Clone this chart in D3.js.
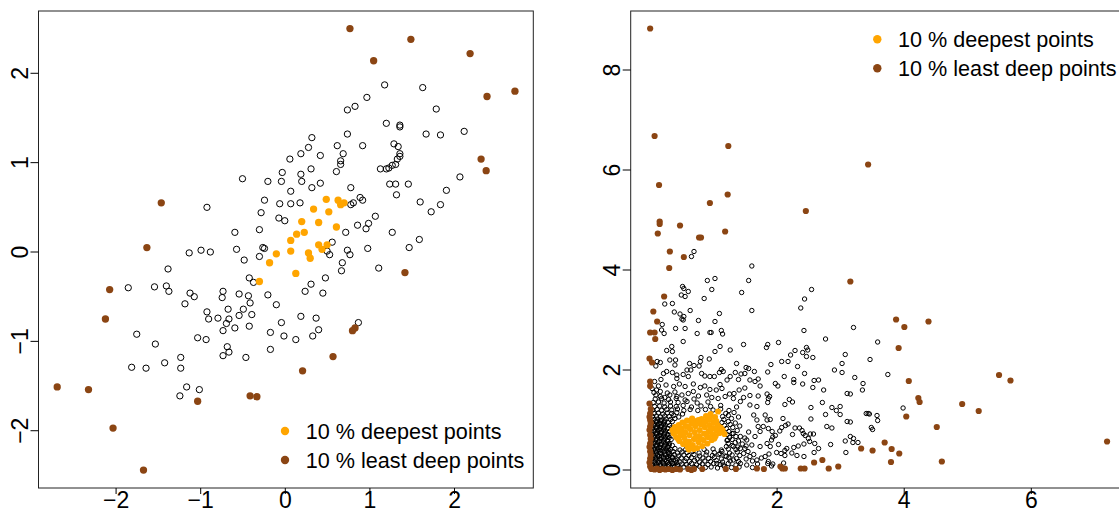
<!DOCTYPE html>
<html>
<head>
<meta charset="utf-8">
<script src="https://cdnjs.cloudflare.com/ajax/libs/d3/7.8.5/d3.min.js"></script>
<style>
  body { margin: 0; background: #fff; }
  svg text { font-family: "Liberation Sans", Arial, Helvetica, sans-serif; fill: #000; }
</style>
</head>
<body>
<script>
// ---- data ----
var leftTicks = [-2, -1, 0, 1, 2];
var rightXTicks = [0, 2, 4, 6];
var rightYTicks = [0, 2, 4, 6, 8];
var legendLabels = ["10 % deepest points", "10 % least deep points"];

// left panel: bivariate normal sample
var leftDeepest = [
  [0.49,0.59],[0.63,0.58],[0.66,0.53],[0.70,0.55],[0.34,0.48],[0.52,0.45],[0.20,0.34],[0.40,0.33],
  [0.61,0.28],[0.14,0.20],[0.23,0.22],[0.07,0.13],[0.40,0.08],[0.50,0.08],[0.44,0.03],[0.07,0.01],
  [-0.10,-0.02],[0.28,-0.01],[0.30,-0.07],[-0.18,-0.12],[0.13,-0.24],[-0.30,-0.33]
];
var leftLeastDeep = [
  [0.77,2.50],[1.49,2.38],[2.19,2.22],[1.05,2.14],[2.39,1.74],[2.72,1.80],[2.32,1.04],[2.38,0.91],
  [-1.46,0.55],[-1.63,0.05],[1.42,-0.23],[-2.07,-0.42],[-2.12,-0.75],[0.83,-0.85],[0.80,-0.88],
  [0.57,-1.17],[0.21,-1.33],[-2.69,-1.51],[-2.32,-1.54],[-1.03,-1.67],[-0.41,-1.61],[-0.33,-1.62],
  [-2.03,-1.97],[-1.67,-2.44]
];
var leftOther = [
  [1.18,1.87],[1.63,1.84],[0.97,1.73],[0.83,1.63],[0.74,1.59],[1.79,1.60],[1.20,1.44],[1.36,1.42],
  [1.36,1.40],[1.67,1.32],[1.84,1.31],[2.12,1.35],[0.74,1.32],[0.32,1.28],[0.92,1.19],[0.62,1.19],
  [0.28,1.17],[1.29,1.21],[1.34,1.18],[0.19,1.10],[0.42,1.08],[0.69,1.10],[0.06,1.04],[1.36,1.10],
  [1.36,1.07],[1.33,1.04],[0.66,1.02],[0.66,0.98],[1.13,0.93],[1.20,0.93],[1.23,0.94],[1.27,0.97],
  [1.31,0.98],[2.07,0.84],[-0.03,0.89],[-0.04,0.79],[0.19,0.87],[0.20,0.79],[0.31,0.93],[0.61,0.90],
  [0.42,0.77],[0.32,0.72],[1.24,0.76],[1.31,0.76],[1.46,0.76],[1.32,0.64],[1.91,0.69],[0.07,0.68],
  [0.78,0.72],[0.78,0.53],[0.81,0.55],[0.89,0.61],[0.92,0.58],[1.60,0.56],[1.84,0.53],[1.73,0.45],
  [-0.06,0.54],[0.07,0.54],[0.18,0.55],[1.07,0.40],[-0.07,0.38],[0.00,0.35],[0.86,0.30],[0.99,0.32],
  [0.96,0.26],[0.72,0.22],[1.27,0.22],[1.59,0.14],[0.56,0.11],[0.74,0.02],[0.77,-0.03],[0.98,0.04],
  [1.47,0.05],[0.50,0.01],[0.53,-0.03],
  [-0.50,0.82],[-0.20,0.79],[-0.24,0.58],[-0.92,0.50],[-0.28,0.44],[-0.59,0.22],[-0.30,0.25],
  [-1.13,-0.01],[-0.99,0.02],[-0.88,0.00],[-0.57,0.03],[-0.26,0.05],[-0.24,0.04],[-0.48,-0.09],
  [-0.30,-0.05],[-1.38,-0.19],[-1.85,-0.40],[-1.54,-0.39],[-1.40,-0.38],[-1.37,-0.44],[-0.42,-0.29],
  [-0.37,-0.34],[-1.12,-0.46],[-1.07,-0.50],[-1.18,-0.58],[-0.73,-0.44],[-0.74,-0.51],[-0.54,-0.47],
  [-0.43,-0.49],[-0.41,-0.57],[-0.20,-0.48],[-0.10,-0.59],[-0.67,-0.64],[-0.49,-0.64],[-0.92,-0.67],
  [-0.39,-0.70],[-0.54,-0.71],[-0.90,-0.75],[-0.79,-0.74],[-0.66,-0.75],[-0.69,-0.80],[-0.59,-0.85],
  [-0.42,-0.83],[-0.04,-0.79],[-0.73,-0.88],[-0.17,-0.90],[-1.75,-0.92],[-1.53,-1.03],[-1.03,-0.96],
  [-0.93,-0.98],[-0.68,-1.06],[-0.66,-1.12],[-0.73,-1.16],[-0.46,-1.18],[-0.17,-1.09],[-1.23,-1.18],
  [-1.81,-1.29],[-1.64,-1.30],[-1.42,-1.24],[-1.23,-1.30],[-1.16,-1.51],[-1.01,-1.54],[-1.24,-1.61],
  [0.68,-0.12],[0.67,-0.21],[1.11,-0.18],[0.48,-0.29],[0.31,-0.36],[0.24,-0.44],[0.45,-0.46],
  [0.19,-0.72],[0.37,-0.74],[0.40,-0.87],[0.33,-0.94],[-0.01,-0.94],[0.13,-0.98],[0.87,-0.79]
];

// right panel: skewed positive sample
var rightDeepest = [
  [0.36,0.80],[0.38,0.73],[0.40,0.86],[0.42,0.66],[0.44,0.78],[0.46,0.90],[0.47,0.58],[0.49,0.70],
  [0.50,0.83],[0.52,0.95],[0.53,0.52],[0.55,0.64],[0.56,0.76],[0.57,0.88],[0.59,0.99],[0.60,0.46],
  [0.62,0.57],[0.63,0.70],[0.64,0.82],[0.66,0.93],[0.67,1.03],[0.68,0.50],[0.70,0.62],[0.71,0.76],
  [0.72,0.88],[0.74,0.98],[0.75,0.44],[0.77,0.56],[0.78,0.68],[0.79,0.80],[0.80,0.92],[0.82,1.02],
  [0.83,0.48],[0.85,0.60],[0.86,0.73],[0.87,0.86],[0.88,0.97],[0.89,1.08],[0.91,0.53],[0.92,0.66],
  [0.93,0.78],[0.94,0.90],[0.95,1.01],[0.96,1.12],[0.98,0.60],[0.99,0.72],[1.00,0.84],[1.01,0.95],
  [1.03,1.06],[1.04,0.68],[1.06,0.79],[1.07,0.90],[1.08,1.17],[1.10,0.74],[1.12,0.85],[1.15,0.80],
  [1.18,0.72],[0.45,0.62],[0.58,0.55],[0.65,0.48],[0.73,0.66],[0.81,0.62],[0.90,0.70],[0.97,0.82],
  [1.02,0.63],[0.69,0.94],[0.61,0.86],[0.54,0.72],[0.48,0.79],[0.77,1.00],[0.84,0.91],[0.93,1.05],
  [1.05,0.98],[0.70,0.42],[0.62,0.41]
];
var rightLeastDeep = [
  [0.01,8.83],[0.08,6.68],[1.24,6.48],[0.15,5.70],[1.23,5.51],[0.95,5.34],[2.46,5.18],[0.16,4.97],
  [0.16,4.92],[0.48,4.89],[0.13,4.73],[0.78,4.65],[0.81,4.65],[1.19,4.77],[0.32,4.37],[0.54,4.26],
  [0.31,4.04],[3.44,6.11],
  [3.16,3.77],[3.88,3.01],[4.01,2.86],[4.39,2.97],[3.92,2.44],[4.08,1.78],[5.50,1.90],[5.68,1.79],
  [4.23,1.44],[4.25,1.36],[4.92,1.32],[5.18,1.18],[4.04,1.07],[4.52,0.86],[3.70,0.55],[3.33,0.43],
  [3.51,0.39],[3.81,0.42],[3.93,0.33],[3.80,0.16],[4.60,0.17],[7.20,0.57],
  [0.23,3.47],[0.06,3.17],[0.12,2.97],[0.01,2.75],[0.08,2.75],[0.09,2.62],[0.00,2.23],[0.04,2.15],
  [0.01,1.77],[0.01,1.68],[0.00,1.33],[0.01,1.13],[0.01,1.00],[0.01,0.87],[0.01,0.70],[0.01,0.53],
  [0.01,0.37],[0.01,0.23],[0.02,1.22],[0.00,1.06],[0.02,0.94],[0.00,0.80],[0.02,0.62],[0.00,0.46],
  [0.02,0.30],[0.00,0.15],[0.01,0.07],
  [0.03,0.02],[0.08,0.01],[0.12,0.03],[0.16,0.00],[0.20,0.02],[0.25,0.01],[0.30,0.02],[0.36,0.00],
  [0.42,0.02],[0.48,0.01],[0.61,0.02],[0.66,0.00],[0.70,0.02],[0.83,0.02],[1.20,0.02],[1.36,0.02],
  [1.69,0.03],[1.80,0.02],[2.06,0.07],[2.09,0.03],[2.13,0.03],[2.38,0.03],[2.44,0.03],[2.59,0.15],
  [2.72,0.20],[2.82,0.03],[2.97,0.07]
];
var rightOther = [
  // sparse upper / right part
  [0.70,4.37],[0.66,4.27],[1.61,4.08],[0.91,3.79],[1.03,3.83],[1.56,3.79],[0.54,3.63],[0.98,3.61],
  [2.55,3.61],[0.52,3.67],[0.61,3.57],[0.56,3.47],[0.50,3.50],[1.45,3.55],[0.86,3.43],[0.24,3.32],
  [0.36,3.33],[0.64,3.19],[0.39,3.16],[0.48,3.12],[0.54,3.07],[0.51,3.02],[0.53,3.00],[1.10,3.13],
  [1.61,3.19],[0.77,2.99],[1.03,2.97],[0.20,2.91],[0.19,2.80],[0.23,2.73],[0.41,2.83],[0.56,2.83],
  [0.95,2.75],[0.97,2.75],[1.13,2.79],[1.15,2.72],[0.75,2.73],[0.53,2.57],[1.48,2.51],[1.86,2.51],
  [1.84,2.45],[1.11,2.47],[1.03,2.37],[0.35,2.47],[0.27,2.39],[0.36,2.37],[1.27,2.40],[0.94,2.22],
  [0.81,2.25],[0.17,2.15],[0.12,2.17],[0.10,2.08],[0.32,2.20],[0.41,2.20],[0.40,2.10],[0.63,2.13],
  [0.70,2.09],[0.65,2.00],[0.59,2.00],[0.80,2.17],[0.78,2.08],[1.13,2.01],[1.16,1.97],[1.37,2.13],
  [1.52,2.05],[1.56,2.03],[1.50,1.93],[1.65,1.97],[1.71,1.82],[1.86,1.96],[0.22,1.93],[0.27,1.97],
  [0.36,1.95],[0.43,1.90],[0.53,1.91],[0.61,1.87],[0.43,1.83],[0.82,1.93],[0.87,1.88],[0.95,1.87],
  [1.02,1.87],[1.10,1.95],[1.27,1.87],[1.35,1.95],[1.44,1.92],[1.40,1.81],[1.22,1.80],[1.11,1.71],
  [0.18,1.81],[0.08,1.77],[0.04,1.63],[0.11,1.60],[0.38,1.67],[0.47,1.72],[0.56,1.67],[0.69,1.72],
  [0.80,1.65],[0.87,1.68],[0.95,1.61],[1.05,1.60],[1.14,1.63],[1.26,1.52],[1.33,1.53],[1.41,1.60],
  [1.50,1.64],[1.58,1.80],[1.66,1.77],[1.74,1.68],[1.71,1.48],[1.85,1.52],[1.87,1.43],[1.86,1.35],
  [1.48,1.45],[1.58,1.49],[0.10,1.50],[0.17,1.47],[0.24,1.45],[0.32,1.50],[0.43,1.47],[0.51,1.50],
  [0.61,1.53],[0.69,1.57],[0.77,1.48],[0.90,1.50],[0.98,1.45],[1.08,1.43],[1.19,1.47],[1.32,1.43],
  [1.43,1.37],[1.58,1.30],[1.69,1.27],[1.82,1.10],[1.85,1.00],[1.79,0.87],[1.87,0.83],[1.64,1.10],
  [1.69,1.00],[1.71,0.87],[1.74,0.77],[1.66,0.67],[1.43,0.67],[1.53,0.60],[1.61,0.50],[1.74,0.47],
  [1.85,0.53],[1.32,0.73],[1.23,0.60],[1.32,0.47],[1.43,0.43],[1.48,0.33],[1.58,0.27],[1.69,0.20],
  [1.82,0.27],[1.87,0.17],[1.11,0.33],[1.21,0.27],[1.32,0.20],[1.06,0.13],[1.16,0.10],[1.53,0.10],
  [1.43,0.13],
  [2.44,3.42],[2.38,3.24],[2.43,2.79],[2.77,2.62],[2.03,2.55],[2.47,2.45],[2.49,2.40],[2.41,2.35],
  [2.47,2.27],[2.57,2.25],[2.29,2.39],[2.22,2.30],[3.08,2.31],[2.08,2.17],[2.18,2.17],[1.91,2.11],
  [3.03,2.13],[3.03,1.95],[2.33,2.07],[2.91,2.00],[2.44,1.93],[2.12,1.87],[2.27,1.81],[2.27,1.75],
  [2.41,1.72],[1.98,1.73],[2.02,1.68],[2.59,1.79],[2.66,1.80],[2.57,1.65],[2.74,1.60],[3.11,1.53],
  [1.89,1.47],[2.20,1.41],[2.25,1.36],[2.13,1.31],[2.72,1.35],[2.54,1.25],[2.87,1.25],[2.94,1.19],
  [3.00,1.27],[3.00,1.11],[2.77,1.11],[2.54,1.02],[1.90,1.01],[2.10,1.03],[3.11,0.97],[2.79,0.87],
  [2.87,0.84],[1.93,0.77],[1.98,0.69],[2.05,0.78],[2.08,0.85],[2.14,0.89],[2.18,0.92],[2.29,0.84],
  [2.36,0.84],[2.40,0.79],[2.42,0.73],[2.45,0.69],[2.53,0.72],[2.58,0.72],[2.50,0.63],[2.25,0.71],
  [1.92,0.60],[2.03,0.51],[1.90,0.47],[1.94,0.66],[2.16,0.43],[2.13,0.39],[2.27,0.45],[2.34,0.48],
  [2.60,0.53],[2.66,0.43],[2.43,0.52],[2.52,0.57],[2.85,0.51],[3.08,0.58],[3.09,0.35],[2.59,0.35],
  [1.88,0.32],[2.00,0.35],[2.07,0.33],[2.13,0.29],[2.24,0.34],[2.32,0.29],[2.43,0.27],[1.86,0.13],
  [1.94,0.12],[2.11,0.14],[1.92,0.08],
  [3.21,2.85],[3.59,2.56],[3.47,2.21],[3.23,1.85],[3.75,1.91],[3.36,1.73],[3.35,1.60],[3.16,1.52],
  [3.99,1.24],[3.41,1.13],[3.44,1.13],[3.46,1.12],[3.58,1.09],[3.59,0.99],[3.16,0.96],[3.49,0.85],
  [3.51,0.81],[3.16,0.67],[3.21,0.63],[3.20,0.55],[3.28,0.55],
  // dense mass near the origin
  [0.06,0.05],[0.13,0.06],[0.19,0.04],[0.26,0.06],[0.33,0.05],[0.40,0.07],[0.47,0.04],[0.54,0.06],
  [0.62,0.07],[0.71,0.05],[0.79,0.07],[0.88,0.05],[0.97,0.06],[1.07,0.04],[1.18,0.07],[1.29,0.05],
  [1.41,0.06],[1.62,0.05],
  [0.05,0.11],[0.11,0.12],[0.17,0.10],[0.23,0.12],[0.30,0.11],[0.37,0.13],[0.44,0.10],[0.51,0.12],
  [0.58,0.11],[0.66,0.13],[0.74,0.10],[0.83,0.12],[0.92,0.11],[1.01,0.13],[1.11,0.11],[1.24,0.13],
  [1.36,0.10],[1.70,0.12],
  [0.07,0.17],[0.14,0.18],[0.21,0.16],[0.27,0.18],[0.34,0.17],[0.41,0.19],[0.48,0.16],[0.56,0.18],
  [0.63,0.17],[0.71,0.19],[0.79,0.16],[0.87,0.18],[0.96,0.17],[1.05,0.19],[1.15,0.16],[1.27,0.18],
  [1.40,0.17],[1.62,0.18],
  [0.05,0.23],[0.10,0.24],[0.16,0.22],[0.22,0.24],[0.29,0.23],[0.36,0.25],[0.43,0.22],[0.50,0.24],
  [0.58,0.23],[0.66,0.25],[0.75,0.22],[0.84,0.24],[0.93,0.23],[1.02,0.25],[1.13,0.22],[1.25,0.24],
  [1.37,0.23],[1.52,0.22],[1.76,0.24],
  [0.07,0.29],[0.13,0.30],[0.19,0.28],[0.25,0.30],[0.32,0.29],[0.39,0.31],[0.46,0.28],[0.54,0.30],
  [0.62,0.29],[0.70,0.31],[0.79,0.28],[0.89,0.30],[0.99,0.29],[1.09,0.31],[1.19,0.28],[1.30,0.30],
  [1.42,0.29],[1.64,0.31],
  [0.05,0.35],[0.11,0.36],[0.17,0.34],[0.23,0.36],[0.30,0.35],[0.37,0.37],[0.44,0.34],[0.51,0.36],
  [0.59,0.35],[0.68,0.37],[0.78,0.34],[0.90,0.36],[1.02,0.35],[1.14,0.37],[1.26,0.34],[1.38,0.36],
  [1.55,0.37],
  [0.07,0.41],[0.13,0.42],[0.20,0.40],[0.26,0.42],[0.33,0.41],[0.40,0.43],[0.48,0.40],[0.57,0.41],
  [0.86,0.41],[1.00,0.42],[1.13,0.40],[1.24,0.42],[1.36,0.41],[1.50,0.43],
  [0.05,0.47],[0.11,0.48],[0.17,0.46],[0.23,0.48],[0.29,0.47],[0.36,0.49],[1.21,0.47],[1.30,0.49],
  [1.39,0.46],[1.52,0.48],
  [0.07,0.53],[0.13,0.54],[0.19,0.52],[0.25,0.54],[0.31,0.53],[1.24,0.53],[1.35,0.55],[1.46,0.52],
  [0.05,0.59],[0.10,0.60],[0.16,0.58],[0.22,0.60],[0.28,0.59],[0.34,0.61],[1.22,0.59],[1.30,0.61],
  [1.40,0.58],
  [0.07,0.65],[0.13,0.66],[0.19,0.64],[0.25,0.66],[0.31,0.65],[1.26,0.65],[1.36,0.67],[1.50,0.64],
  [0.05,0.71],[0.11,0.72],[0.17,0.70],[0.23,0.72],[0.29,0.71],[1.22,0.71],[1.30,0.73],
  [0.07,0.77],[0.13,0.78],[0.19,0.76],[0.25,0.78],[0.31,0.77],[1.25,0.77],[1.38,0.79],[1.56,0.76],
  [0.05,0.83],[0.11,0.84],[0.17,0.82],[0.23,0.84],[0.29,0.83],[0.35,0.85],[1.21,0.83],[1.31,0.85],
  [0.07,0.89],[0.13,0.90],[0.19,0.88],[0.25,0.90],[0.32,0.89],[1.18,0.89],[1.27,0.91],[1.42,0.88],
  [0.05,0.95],[0.11,0.96],[0.17,0.94],[0.23,0.96],[0.29,0.95],[0.36,0.97],[1.14,0.95],[1.24,0.97],
  [1.35,0.94],
  [0.07,1.01],[0.13,1.02],[0.19,1.00],[0.26,1.02],[0.33,1.01],[0.40,1.03],[1.17,1.01],[1.29,1.03],
  [0.05,1.07],[0.11,1.08],[0.17,1.06],[0.24,1.08],[0.31,1.07],[0.38,1.09],[0.46,1.06],[1.15,1.07],
  [1.24,1.09],[1.40,1.06],
  [0.07,1.13],[0.14,1.14],[0.21,1.12],[0.28,1.14],[0.35,1.13],[0.43,1.15],[0.52,1.12],[1.20,1.13],
  [1.33,1.15],
  [0.05,1.20],[0.12,1.21],[0.19,1.19],[0.27,1.21],[0.35,1.20],[0.44,1.22],[0.54,1.19],[0.64,1.21],
  [0.76,1.19],[0.88,1.21],[1.00,1.20],[1.12,1.22],[1.25,1.19],
  [0.08,1.27],[0.16,1.28],[0.24,1.26],[0.33,1.28],[0.42,1.27],[0.53,1.29],[0.66,1.26],[0.81,1.28],
  [0.96,1.27],[1.12,1.29],[1.37,1.26],
  [0.06,1.35],[0.14,1.36],[0.23,1.34],[0.33,1.36],[0.45,1.35],[0.59,1.37],[0.75,1.34],[0.92,1.36],
  [0.09,1.42],[0.19,1.43],[0.30,1.41],[0.42,1.43],[0.56,1.40],[0.70,1.42],
  [0.07,1.55],[0.17,1.57],[0.28,1.54],[0.40,1.56],
  [0.14,1.68],[0.26,1.70],
  // the blackest corner, in between the rows above
  [0.09,0.08],[0.16,0.09],[0.23,0.08],[0.30,0.09],[0.37,0.08],[0.44,0.09],
  [0.08,0.14],[0.15,0.15],[0.22,0.14],[0.29,0.15],[0.36,0.14],[0.43,0.15],
  [0.10,0.20],[0.17,0.21],[0.24,0.20],[0.31,0.21],[0.38,0.20],
  [0.08,0.26],[0.15,0.27],[0.22,0.26],[0.29,0.27],[0.36,0.26],
  [0.10,0.32],[0.17,0.33],[0.24,0.32],[0.31,0.33],
  [0.09,0.38],[0.16,0.39],[0.23,0.38],[0.30,0.39],
  [0.08,0.44],[0.15,0.45],[0.22,0.44],[0.29,0.45],
  [0.10,0.50],[0.17,0.51],[0.24,0.50],[0.31,0.50],
  [0.08,0.56],[0.15,0.57],[0.22,0.56],[0.29,0.57],
  [0.10,0.62],[0.17,0.63],[0.24,0.62],
  [0.08,0.68],[0.15,0.69],[0.22,0.68],[0.29,0.68],
  [0.10,0.74],[0.17,0.75],[0.24,0.74],
  [0.08,0.80],[0.15,0.81],[0.22,0.80],
  [0.10,0.86],[0.17,0.87],[0.24,0.86],
  [0.08,0.92],[0.15,0.93],[0.22,0.92],
  [0.10,0.98],[0.17,0.99],[0.24,0.98]
];

var deepColor = "#FFA500",
    leastColor = "#8B4513";

// ---- drawing ----
var width = 1119,
    height = 513,
    plotTop = 11,
    plotBottom = 488;

var svg = d3.select("body")
  .append("svg")
  .attr("width", width)
  .attr("height", height);

var panels = [
  {
    left: 38.5, right: 533.3,
    xDomain: [-2.911, 2.937], yDomain: [-2.641, 2.697],
    xTicks: leftTicks, yTicks: leftTicks,
    other: leftOther, deep: leftDeepest, least: leftLeastDeep,
    openR: 3.15, openW: 1, dotR: 3.65,
    legendX: 285, legendY: 431
  },
  {
    left: 630.7, right: 1125.5,
    xDomain: [-0.296, 7.49], yDomain: [-0.36, 9.18],
    xTicks: rightXTicks, yTicks: rightYTicks,
    other: rightOther, deep: rightDeepest, least: rightLeastDeep,
    openR: 2.2, openW: 1, dotR: 3.1,
    legendX: 877.3, legendY: 39.3
  }
];

var fmt = d3.format("d");

panels.forEach(function(p) {
  var x = d3.scaleLinear().domain(p.xDomain).range([p.left, p.right]);
  var y = d3.scaleLinear().domain(p.yDomain).range([plotBottom, plotTop]);
  var g = svg.append("g");

  // open circles first, coloured ones on top
  g.append("g")
    .selectAll("circle")
    .data(p.other)
    .enter()
    .append("circle")
    .attr("cx", function(d) { return x(d[0]); })
    .attr("cy", function(d) { return y(d[1]); })
    .attr("r", p.openR)
    .attr("fill", "none")
    .attr("stroke", "#000")
    .attr("stroke-width", p.openW);

  [[p.deep, deepColor], [p.least, leastColor]].forEach(function(s) {
    g.append("g")
      .selectAll("circle")
      .data(s[0])
      .enter()
      .append("circle")
      .attr("cx", function(d) { return x(d[0]); })
      .attr("cy", function(d) { return y(d[1]); })
      .attr("r", p.dotR)
      .attr("fill", s[1]);
  });

  // frame
  g.append("rect")
    .attr("x", p.left)
    .attr("y", plotTop)
    .attr("width", p.right - p.left)
    .attr("height", plotBottom - plotTop)
    .attr("fill", "none")
    .attr("stroke", "#222")
    .attr("stroke-width", 1);

  // bottom axis
  var xAxis = g.append("g")
    .attr("transform", "translate(0," + plotBottom + ")")
    .call(d3.axisBottom(x).tickValues(p.xTicks).tickSize(6).tickFormat(fmt));
  xAxis.attr("font-size", null).attr("font-family", null);
  xAxis.select(".domain").remove();
  xAxis.selectAll("line").attr("stroke", "#000");
  xAxis.selectAll("text")
    .attr("y", 4)
    .attr("dy", "0.71em")
    .style("font-size", "23px");

  // left axis, labels parallel to the axis
  g.selectAll(".ytick")
    .data(p.yTicks)
    .enter()
    .append("line")
    .attr("class", "ytick")
    .attr("x1", p.left - 8)
    .attr("x2", p.left)
    .attr("y1", function(d) { return y(d); })
    .attr("y2", function(d) { return y(d); })
    .attr("stroke", "#000");

  g.selectAll(".ylab")
    .data(p.yTicks)
    .enter()
    .append("text")
    .attr("class", "ylab")
    .attr("transform", function(d) {
      return "translate(" + (p.left - 10.7) + "," + y(d) + ") rotate(-90)";
    })
    .attr("text-anchor", "middle")
    .style("font-size", "23px")
    .text(fmt);

  // legend
  var legend = g.append("g")
    .selectAll("g")
    .data(legendLabels)
    .enter()
    .append("g")
    .attr("transform", function(d, i) {
      return "translate(" + p.legendX + "," + (p.legendY + i * 29) + ")";
    });
  legend.append("circle")
    .attr("r", 4.2)
    .attr("fill", function(d, i) { return i === 0 ? deepColor : leastColor; });
  legend.append("text")
    .attr("x", 20.8)
    .attr("y", 7.8)
    .style("font-size", "21.6px")
    .text(function(d) { return d; });
});
</script>
</body>
</html>
